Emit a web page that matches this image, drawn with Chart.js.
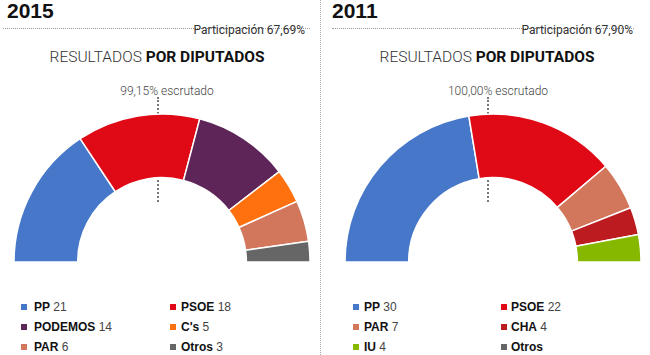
<!DOCTYPE html>
<html>
<head>
<meta charset="utf-8">
<script src="https://cdn.jsdelivr.net/npm/chart.js@4/dist/chart.umd.min.js"></script>
<style>
  html, body { margin:0; padding:0; background:#fff; }
  body { width:650px; height:355px; position:relative; overflow:hidden; font-family: Roboto, "Liberation Sans", Arial, sans-serif; }
  .abs { position:absolute; }
  .year { font: bold 21px "Liberation Sans", Arial, sans-serif; color:#111; top:-1px; }
  .hr { height:0; border-top:1px dotted #999; top:28px; }
  .vr { width:0; border-left:1px dotted #aaa; left:320px; top:0; height:355px; }
  .part { font: 12px Roboto, sans-serif; color:#333; top:23px; white-space:nowrap; }
  .title { font: 300 15.5px Roboto, sans-serif; color:#333; top:48px; white-space:nowrap; transform:translateX(-50%); }
  .title b { font-weight:700; color:#111; }
  .escr { font: 300 12px Roboto, sans-serif; color:#444; top:84px; white-space:nowrap; transform:translateX(-50%); }
  .vline { width:0; border-left:2px dotted #777; top:97px; height:105px; }
  canvas { position:absolute; }
  .leg { font: 12px "Liberation Sans", Arial, sans-serif; color:#444; white-space:nowrap; }
  .leg b { color:#111; font-weight:bold; }
  .sq { width:6px; height:6px; }
</style>
</head>
<body>
<div class="abs vr"></div>

<div class="abs year" style="left:7px">2015</div>
<div class="abs hr" style="left:3px; width:307px"></div>
<div class="abs part" style="right:345px">Participación 67,69%</div>
<div class="abs title" style="left:157px">RESULTADOS <b>POR DIPUTADOS</b></div>
<div class="abs escr" style="left:167px">99,15% escrutado</div>
<div class="abs vline" style="left:157px"></div>
<canvas id="c2015" width="300" height="150" style="left:12px; top:113px; width:300px; height:150px"></canvas>

<div class="abs year" style="left:332px">2011</div>
<div class="abs hr" style="left:332px; width:302px"></div>
<div class="abs part" style="right:17px">Participación 67,90%</div>
<div class="abs title" style="left:487px">RESULTADOS <b>POR DIPUTADOS</b></div>
<div class="abs escr" style="left:498px">100,00% escrutado</div>
<div class="abs vline" style="left:487px"></div>
<canvas id="c2011" width="300" height="150" style="left:343px; top:113px; width:300px; height:150px"></canvas>

<div id="legends"></div>

<script>
// ---- Data ----
const parties2015 = ["PP", "PSOE", "PODEMOS", "C's", "PAR", "Otros"];
const seats2015   = [21, 18, 14, 5, 6, 3];
const colors2015  = ["#4677C8", "#E00A17", "#5E2558", "#FF700F", "#D2775B", "#666666"];

const parties2011 = ["PP", "PSOE", "PAR", "CHA", "IU", "Otros"];
const seats2011   = [30, 22, 7, 4, 4, 0];
const colors2011  = ["#4677C8", "#E00A17", "#D2775B", "#BC1B20", "#86B800", "#666666"];
const showValue2011 = [true, true, true, true, true, false];

function makeChart(id, labels, data, colors) {
  return new Chart(document.getElementById(id), {
    type: 'doughnut',
    data: { labels: labels, datasets: [{ data: data, backgroundColor: colors, borderColor: '#fff', borderWidth: 1.5, hoverOffset: 0 }] },
    options: {
      responsive: false, animation: false,
      rotation: -90, circumference: 180, cutout: '57%', radius: 148,
      layout: { padding: 0 },
      plugins: { legend: { display: false }, tooltip: { enabled: false } },
      events: []
    }
  });
}
makeChart('c2015', parties2015, seats2015, colors2015);
makeChart('c2011', parties2011, seats2011, colors2011);

function makeLegend(labels, data, colors, showVals, cols, rowTops) {
  const root = document.getElementById('legends');
  labels.forEach((lab, i) => {
    const col = cols[i % 2];
    const top = rowTops[Math.floor(i / 2)];
    const sq = document.createElement('div');
    sq.className = 'abs sq';
    sq.style.left = col.sq + 'px'; sq.style.top = (top + 4) + 'px';
    sq.style.background = colors[i];
    root.appendChild(sq);
    const t = document.createElement('div');
    t.className = 'abs leg';
    t.style.left = col.tx + 'px'; t.style.top = top + 'px';
    t.innerHTML = '<b>' + lab + '</b>' + (showVals[i] ? ' ' + data[i] : '');
    root.appendChild(t);
  });
}
const rows = [300, 320, 340];
makeLegend(parties2015, seats2015, colors2015, seats2015.map(() => true),
  [{sq:21, tx:34}, {sq:170, tx:181}], rows);
makeLegend(parties2011, seats2011, colors2011, showValue2011,
  [{sq:353, tx:364}, {sq:501, tx:511}], rows);
</script>
</body>
</html>
